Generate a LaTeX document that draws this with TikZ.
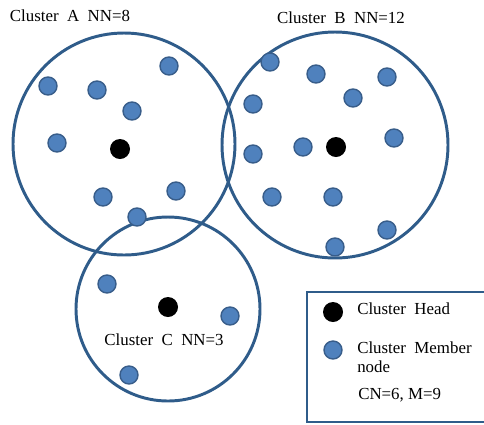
\documentclass[tikz,border=0pt]{standalone}
\usepackage{fontspec}
\setmainfont{Liberation Serif}
\definecolor{ringblue}{HTML}{2F5C8A}
\definecolor{memberfill}{HTML}{4F81BD}
\definecolor{memberline}{HTML}{385D8A}
\tikzset{
	cluster/.style={draw=ringblue, line width=2.1pt},
	head/.style={circle, fill=black, minimum size=0.5cm, inner sep=0pt},
	member/.style={circle, fill=memberfill, draw=memberline, line width=1pt, minimum size=0.45cm, inner sep=0pt},
	caption/.style={font=\fontsize{12}{14.2}\selectfont, inner sep=0pt}
}
\begin{document}
\begin{tikzpicture}[x=0.025cm, y=-0.025cm]
\useasboundingbox (0,0) rectangle (484,424);

% clusters
\draw[cluster] (124,144) circle[radius=111];
\draw[cluster] (335,145) circle[radius=113];
\draw[cluster] (168,309) circle[radius=92];

% cluster A
\node[head] (headA) at (120,149) {};
\foreach \p [count=\i] in {(48,86),(97,90),(169,66),(132,111),(57,143),(103,197),(176,191),(137,217)}
	\node[member] (a\i) at \p {};
\node[caption] (capA) at (70,16) {Cluster\ \ A\ \ NN=8};

% cluster B
\node[head] (headB) at (336,147) {};
\foreach \p [count=\i] in {(270,62),(316,74),(387,77),(353,98),(253,104),(394,138),(303,147),(253,154),(272,197),(333,197),(387,230),(335,247)}
	\node[member] (b\i) at \p {};
\node[caption] (capB) at (341,18) {Cluster\ \ B\ \ NN=12};

% cluster C
\node[head] (headC) at (168,307) {};
\foreach \p [count=\i] in {(107,284),(230,316),(129,375)}
	\node[member] (c\i) at \p {};
\node[caption] (capC) at (164,340) {Cluster\ \ C\ \ NN=3};

% legend
\draw[cluster] (307,292) rectangle (490,422);
\node[head] (keyHead) at (333,312) {};
\node[caption, anchor=west] (txtHead) at (357,309) {Cluster\ \ Head};
\node[member] (keyMember) at (333,350) {};
\node[caption, anchor=north west, align=left] (txtMember) at (357,341) {Cluster\ \ Member\\node};
\node[caption, anchor=west] (txtCount) at (358,395) {CN=6, M=9};
\end{tikzpicture}
\end{document}
